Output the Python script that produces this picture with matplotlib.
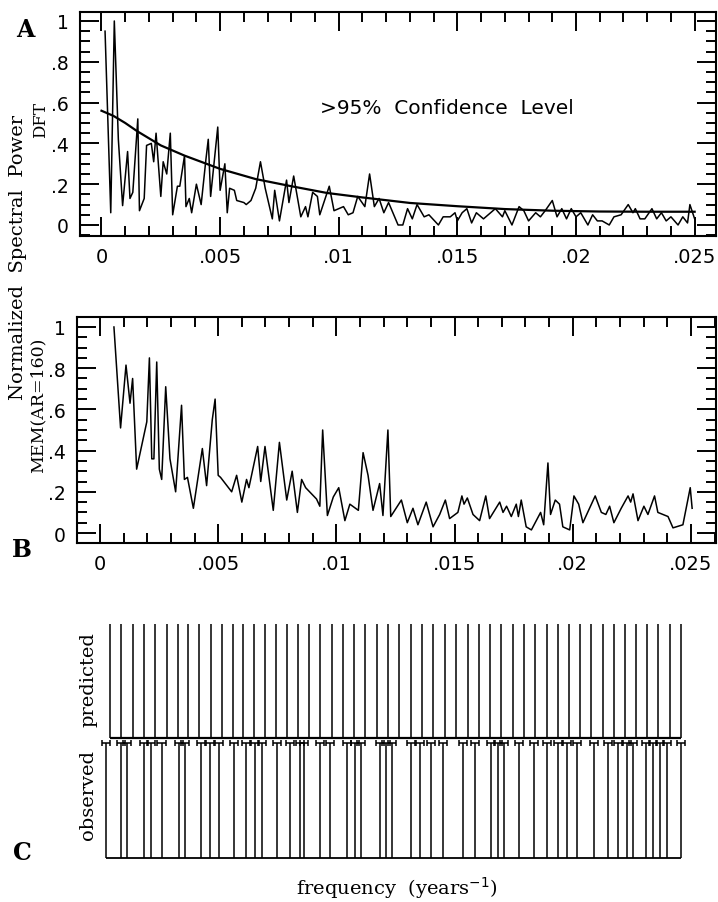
import numpy as np
import matplotlib
matplotlib.use("Agg")
import matplotlib.pyplot as plt
from matplotlib.ticker import MultipleLocator, FixedFormatter, FixedLocator

# ---- data ----
dft_freq = [0.00015, 0.00039, 0.00054, 0.00071, 0.00089, 0.0011, 0.0012, 0.00132, 0.00153, 0.0016,
            0.0018, 0.0019, 0.0021, 0.0022, 0.0023, 0.0025, 0.0026, 0.00275, 0.0029, 0.0030,
            0.0032, 0.0033, 0.0035, 0.00356, 0.0037, 0.0038, 0.0040, 0.0042, 0.0044, 0.0045,
            0.0046, 0.0049, 0.0050, 0.0052, 0.0053, 0.0054, 0.0056, 0.0057, 0.0060, 0.0061,
            0.0063, 0.0065, 0.0067, 0.0069, 0.0072, 0.0073, 0.0075, 0.0078, 0.0079, 0.0081,
            0.0084, 0.0086, 0.0087, 0.0089, 0.0091, 0.0092, 0.0096, 0.0098, 0.0100, 0.0102,
            0.0104, 0.0106, 0.0108, 0.0111, 0.0113, 0.0115, 0.0117, 0.0119, 0.0121, 0.0125,
            0.0127, 0.0129, 0.0131, 0.0133, 0.0136, 0.0138, 0.0142, 0.0144, 0.0147, 0.0149,
            0.0150, 0.0152, 0.0154, 0.0156, 0.0158, 0.0161, 0.0163, 0.0166, 0.0169, 0.0170,
            0.0173, 0.0176, 0.0178, 0.0180, 0.0183, 0.0185, 0.0187, 0.0190, 0.0192, 0.0194,
            0.0196, 0.0198, 0.0200, 0.0202, 0.0205, 0.0207, 0.0209, 0.0211, 0.0214, 0.0216,
            0.0219, 0.0222, 0.0224, 0.0225, 0.0227, 0.0229, 0.0232, 0.0234, 0.0236, 0.0238,
            0.0240, 0.0243, 0.0245, 0.0247, 0.0248, 0.0250]
dft_power = [0.95, 0.06, 1.00, 0.42, 0.095, 0.36, 0.13, 0.16, 0.52, 0.07,
             0.13, 0.39, 0.40, 0.31, 0.45, 0.14, 0.31, 0.25, 0.45, 0.05,
             0.19, 0.19, 0.34, 0.09, 0.13, 0.06, 0.20, 0.10, 0.32, 0.42,
             0.14, 0.48, 0.17, 0.30, 0.06, 0.18, 0.17, 0.12, 0.11, 0.10,
             0.12, 0.18, 0.31, 0.18, 0.03, 0.17, 0.02, 0.22, 0.11, 0.24,
             0.04, 0.09, 0.04, 0.16, 0.14, 0.05, 0.19, 0.07, 0.08, 0.09,
             0.05, 0.06, 0.14, 0.09, 0.25, 0.09, 0.13, 0.06, 0.11, 0.00,
             0.00, 0.08, 0.03, 0.10, 0.04, 0.05, 0.00, 0.04, 0.04, 0.06,
             0.02, 0.06, 0.08, 0.01, 0.06, 0.03, 0.05, 0.08, 0.04, 0.07,
             0.00, 0.09, 0.07, 0.02, 0.06, 0.04, 0.07, 0.12, 0.04, 0.08,
             0.03, 0.08, 0.04, 0.06, 0.00, 0.05, 0.02, 0.02, 0.00, 0.04,
             0.05, 0.10, 0.06, 0.08, 0.03, 0.03, 0.08, 0.03, 0.06, 0.02,
             0.04, 0.00, 0.04, 0.01, 0.10, 0.03]

conf_freq = [0.0, 0.0005, 0.001, 0.0015, 0.0025, 0.0035, 0.005, 0.0065, 0.008, 0.0095,
             0.011, 0.013, 0.015, 0.017, 0.019, 0.021, 0.023, 0.025]
conf_level = [0.56, 0.535, 0.50, 0.46, 0.39, 0.34, 0.275, 0.225, 0.19, 0.157,
              0.135, 0.108, 0.092, 0.078, 0.070, 0.066, 0.065, 0.065]

mem_freq = [0.00059, 0.00087, 0.0011, 0.00127, 0.00138, 0.00155, 0.00198, 0.00209, 0.00219, 0.00228,
            0.0024, 0.00251, 0.00261, 0.00278, 0.00296, 0.0032, 0.00345, 0.00357, 0.0037, 0.00395,
            0.00433, 0.00451, 0.00475, 0.00487, 0.0050, 0.0051, 0.00557, 0.00578, 0.0060, 0.0062,
            0.0063, 0.00667, 0.0068, 0.00698, 0.00733, 0.00759, 0.0079, 0.00813, 0.00835, 0.00853,
            0.0087, 0.00916, 0.0093, 0.00942, 0.00962, 0.00987, 0.0101, 0.01036, 0.01057, 0.01093,
            0.01113, 0.01134, 0.01155, 0.01183, 0.01197, 0.01218, 0.0123, 0.01275, 0.0130, 0.01324,
            0.01345, 0.0138, 0.01409, 0.01437, 0.01461, 0.01479, 0.01514, 0.01531, 0.0154, 0.01554,
            0.01578, 0.01606, 0.01632, 0.01648, 0.01691, 0.01705, 0.0172, 0.0174, 0.01761, 0.0177,
            0.01782, 0.01803, 0.01825, 0.01864, 0.01877, 0.01895, 0.01906, 0.01926, 0.01944, 0.01958,
            0.01987, 0.02005, 0.02025, 0.02043, 0.02095, 0.02121, 0.0214, 0.02156, 0.02174, 0.02205,
            0.02234, 0.02245, 0.02255, 0.02276, 0.02301, 0.02318, 0.02346, 0.0236, 0.02403, 0.02424,
            0.02466, 0.02497, 0.02505]
mem_power = [1.00, 0.51, 0.815, 0.63, 0.75, 0.31, 0.54, 0.85, 0.36, 0.36,
             0.83, 0.31, 0.26, 0.71, 0.36, 0.20, 0.62, 0.26, 0.27, 0.12,
             0.41, 0.23, 0.55, 0.65, 0.28, 0.27, 0.20, 0.28, 0.15, 0.26,
             0.22, 0.42, 0.25, 0.42, 0.11, 0.44, 0.16, 0.30, 0.10, 0.26,
             0.22, 0.165, 0.13, 0.50, 0.085, 0.175, 0.22, 0.06, 0.14, 0.11,
             0.39, 0.28, 0.11, 0.24, 0.085, 0.50, 0.08, 0.16, 0.05, 0.12,
             0.04, 0.15, 0.03, 0.09, 0.16, 0.07, 0.10, 0.18, 0.14, 0.17,
             0.09, 0.06, 0.18, 0.07, 0.15, 0.10, 0.13, 0.08, 0.14, 0.08,
             0.16, 0.03, 0.015, 0.10, 0.04, 0.34, 0.09, 0.16, 0.14, 0.03,
             0.015, 0.18, 0.14, 0.05, 0.18, 0.10, 0.09, 0.13, 0.05, 0.12,
             0.18, 0.15, 0.19, 0.06, 0.13, 0.09, 0.18, 0.10, 0.08, 0.025,
             0.04, 0.22, 0.12]

pred_freq = [0.000423, 0.000888, 0.001383, 0.001861, 0.002327, 0.002821, 0.003287, 0.003735,
             0.004201, 0.004683, 0.005148, 0.005613, 0.006049, 0.006502, 0.006967, 0.007445,
             0.007923, 0.008376, 0.008854, 0.009319, 0.009801, 0.010267, 0.010745, 0.011210,
             0.011705, 0.012195, 0.012661, 0.013143, 0.013634, 0.014099, 0.014594, 0.015059,
             0.015554, 0.016032, 0.016497, 0.016975, 0.017458, 0.017936, 0.018414, 0.018896,
             0.019361, 0.019839, 0.020317, 0.020782, 0.021265, 0.021743, 0.022208, 0.022673,
             0.023151, 0.023617, 0.024099, 0.024590]

obs_freq = [0.000245, 0.000897, 0.001138, 0.001870, 0.002166, 0.002602, 0.003333, 0.003579,
            0.004264, 0.004670, 0.005042, 0.005660, 0.006184, 0.006540, 0.006865, 0.007483,
            0.008020, 0.008443, 0.008621, 0.009306, 0.009729, 0.010461, 0.010770, 0.011032,
            0.011844, 0.012119, 0.012365, 0.013147, 0.013536, 0.014023, 0.014509, 0.015377,
            0.015863, 0.016548, 0.016836, 0.017081, 0.017733, 0.018350, 0.018921, 0.019361,
            0.019768, 0.020173, 0.020905, 0.021476, 0.021933, 0.022289, 0.022534, 0.023105,
            0.023380, 0.023672, 0.023998, 0.024598]
obs_err = 0.00017

y_ticks = [0, 0.2, 0.4, 0.6, 0.8, 1.0]
y_labels = ["0", ".2", ".4", ".6", ".8", "1"]
x_ticks = [0, 0.005, 0.01, 0.015, 0.02, 0.025]
x_labels = ["0", ".005", ".01", ".015", ".02", ".025"]

W, H = 718, 903
SERIF = "DejaVu Serif"
SANS = "DejaVu Sans"


def px_box(left, top, right, bottom):
    return [left / W, 1 - bottom / H, (right - left) / W, (bottom - top) / H]


def style_axes(ax, xlim, ylim):
    ax.set_xlim(*xlim)
    ax.set_ylim(*ylim)
    ax.xaxis.set_major_locator(FixedLocator(x_ticks))
    ax.xaxis.set_major_formatter(FixedFormatter(x_labels))
    ax.xaxis.set_minor_locator(MultipleLocator(0.001))
    ax.yaxis.set_major_locator(FixedLocator(y_ticks))
    ax.yaxis.set_major_formatter(FixedFormatter(y_labels))
    ax.yaxis.set_minor_locator(MultipleLocator(0.05))
    ax.tick_params(which="both", direction="in", top=True, right=True, width=1.4, color="black")
    ax.tick_params(which="major", length=14, pad=8, labelsize=14)
    ax.tick_params(axis="y", which="major", pad=8, labelsize=13.5)
    ax.tick_params(which="minor", length=7)
    for lab in ax.get_xticklabels() + ax.get_yticklabels():
        lab.set_family(SANS)
    for s in ax.spines.values():
        s.set_linewidth(1.5)


fig = plt.figure(figsize=(W / 100, H / 100), dpi=100)

# panel A: DFT
ax_a = fig.add_axes(px_box(80, 13, 716, 237))
ax_a.plot(dft_freq, dft_power, color="black", lw=1.1)
ax_a.plot(conf_freq, conf_level, color="black", lw=1.6)
style_axes(ax_a, (-0.000906, 0.02590), (-0.054, 1.044))
ax_a.text(0.01455, 0.575, ">95%  Confidence  Level", fontsize=14.5, family=SANS,
          ha="center", va="center")

# panel B: MEM
ax_b = fig.add_axes(px_box(77, 318, 716, 544))
ax_b.plot(mem_freq, mem_power, color="black", lw=1.1)
style_axes(ax_b, (-0.000973, 0.02606), (-0.0485, 1.0485))

# panel C: predicted vs observed lines (y in pixel-like units)
ax_c = fig.add_axes(px_box(77, 612, 716, 868))
ax_c.set_xlim(-0.000973, 0.02606)
ax_c.set_ylim(868, 612)
ax_c.axis("off")
ax_c.vlines(pred_freq, 739, 625, color="black", lw=1.1)
ax_c.hlines(739, pred_freq[0], pred_freq[-1], color="black", lw=1.6)
ax_c.vlines(obs_freq, 859, 744, color="black", lw=1.1)
ax_c.hlines(859, obs_freq[0], obs_freq[-1], color="black", lw=1.3)
ax_c.errorbar(obs_freq, [744] * len(obs_freq), xerr=obs_err, fmt="none",
              ecolor="black", elinewidth=1.1, capsize=2.5, capthick=1.1)

# labels
fig.text(25 / W, 1 - 30 / H, "A", family=SERIF, weight="bold", fontsize=17, ha="center", va="center")
fig.text(22 / W, 1 - 550 / H, "B", family=SERIF, weight="bold", fontsize=17, ha="center", va="center")
fig.text(22 / W, 1 - 853 / H, "C", family=SERIF, weight="bold", fontsize=17, ha="center", va="center")
fig.text(18 / W, 1 - 258 / H, "Normalized  Spectral  Power", family=SERIF, fontsize=14,
         rotation=90, ha="center", va="center")
fig.text(41 / W, 1 - 120 / H, "DFT", family=SERIF, fontsize=12, rotation=90, ha="center", va="center")
fig.text(38 / W, 1 - 405 / H, "MEM(AR=160)", family=SERIF, fontsize=12.5, rotation=90,
         ha="center", va="center")
fig.text(88 / W, 1 - 680 / H, "predicted", family=SERIF, fontsize=14, rotation=90, ha="center", va="center")
fig.text(88 / W, 1 - 795 / H, "observed", family=SERIF, fontsize=14, rotation=90, ha="center", va="center")
fig.text(397 / W, 1 - 888 / H, "frequency  (years$^{-1}$)", family=SERIF, fontsize=14,
         ha="center", va="center")

fig.savefig("out.png", dpi=100)
